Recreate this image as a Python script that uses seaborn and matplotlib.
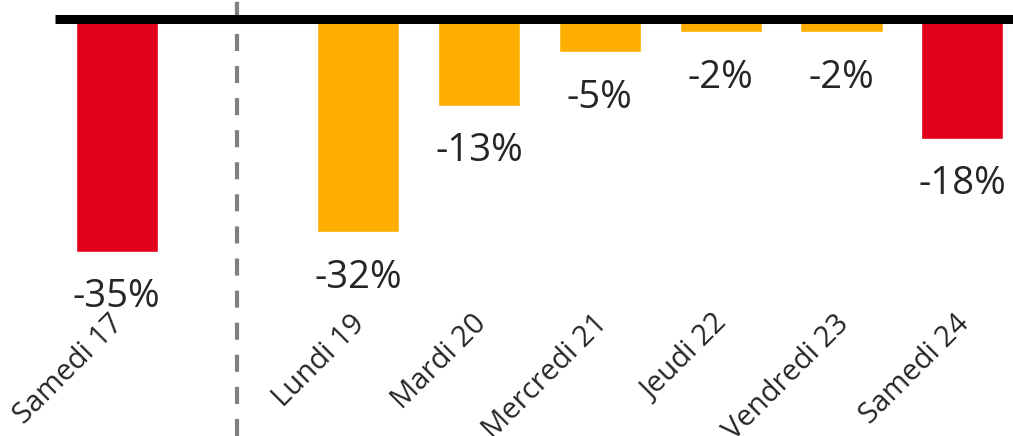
import matplotlib
matplotlib.use("Agg")
import matplotlib.pyplot as plt
import matplotlib.transforms as mtransforms
import seaborn as sns
import pandas as pd

# ---- data ----
days = ["Samedi 17", "Lundi 19", "Mardi 20", "Mercredi 21", "Jeudi 22", "Vendredi 23", "Samedi 24"]
values = [-35, -32, -13, -5, -2, -2, -18]
value_labels = ["-35%", "-32%", "-13%", "-5%", "-2%", "-2%", "-18%"]
day_type = ["weekend", "semaine", "semaine", "semaine", "semaine", "semaine", "weekend"]
type_colors = {"weekend": "#e2001a", "semaine": "#ffad00"}

sns.set_theme(style="white")
plt.rcParams["font.family"] = ["Open Sans", "DejaVu Sans"]

df = pd.DataFrame({"day": days, "value": values, "type": day_type})
gap = " "
order = [days[0], gap] + days[1:]
palette = {d: type_colors[t] for d, t in zip(days, day_type)}

W, H = 1013, 436
fig = plt.figure(figsize=(W / 100, H / 100), dpi=100)
ax_left, ax_bottom_px = 55, 300
ax = fig.add_axes([ax_left / W, 1 - ax_bottom_px / H, 1 - ax_left / W, ax_bottom_px / H])

sns.barplot(data=df, x="day", y="value", hue="day", order=order, hue_order=days,
            palette=palette, width=0.68, legend=False, saturation=1, ax=ax, zorder=2)

ppp = 6.66  # pixels per percent
zero_px = 19
ax.set_ylim(-(ax_bottom_px - zero_px) / ppp, zero_px / ppp)
ax.set_xlim(-0.51, 7.42)

ax.axhline(0, color="black", lw=6.5, zorder=5, solid_capstyle="butt")
gap_pos = order.index(gap)
ax.axvline(gap_pos, ymin=-(H - ax_bottom_px) / ax_bottom_px, ymax=1.0, color="#808080",
           lw=3, ls=(0, (4.1, 3.6)), clip_on=False, zorder=1)

pos = {d: i for i, d in enumerate(order)}
for d, v, lab in zip(days, values, value_labels):
    ax.annotate(lab, xy=(pos[d], v), xytext=(0, -19), textcoords="offset points",
                ha="center", va="top", fontsize=27.5, color="#262626")

ax.set_xlabel("")
ax.set_ylabel("")
ax.set_yticks([])
ax.set_xticks(range(len(order)))
ax.set_xticklabels(order, rotation=45, ha="right", va="center", rotation_mode="anchor",
                   fontsize=21, color="#262626")
ax.tick_params(axis="x", length=0, pad=14)
for lbl in ax.get_xticklabels():
    lbl.set_transform(lbl.get_transform() + mtransforms.ScaledTranslation(2 / 72, 0, fig.dpi_scale_trans))
for s in ax.spines.values():
    s.set_visible(False)
ax.patch.set_alpha(0)

fig.savefig("out.png", dpi=100)
